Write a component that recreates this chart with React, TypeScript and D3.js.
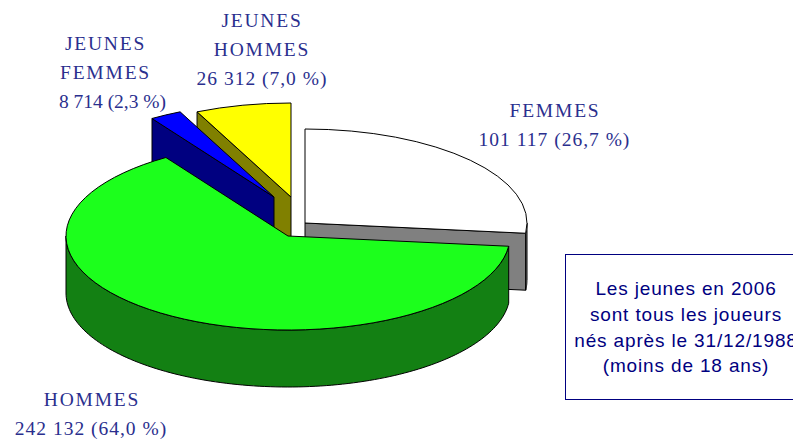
import React from "react";
import * as d3 from "d3";

const categories = ["FEMMES", "HOMMES", "JEUNES FEMMES", "JEUNES HOMMES"];
const values = [101117, 242132, 8714, 26312];
const topColors = ["#ffffff", "#1cff1c", "#0000ff", "#ffff00"];
const sideColors = ["#808080", "#138013", "#000080", "#808000"];
const centerX = [305, 288, 274, 291];
const centerY = [223, 236, 197, 197];
const drawOrder = [3, 2, 0, 1];
const labelLines = [
  ["FEMMES", "101 117 (26,7 %)"],
  ["HOMMES", "242 132 (64,0 %)"],
  ["JEUNES", "FEMMES", "8 714 (2,3 %)"],
  ["JEUNES", "HOMMES", "26 312 (7,0 %)"],
];
const labelLineX = [
  [555, 554.5],
  [92, 91],
  [105.5, 105.5, 112.5],
  [262, 262, 262],
];
const labelSpacing = [
  [1.8, 1],
  [1.8, 1],
  [1.8, 1.8, 0],
  [1.8, 1.8, 1],
];
const labelY = [117, 406, 50, 27];
const labelStep = 29;
const noteLines = ["Les jeunes en 2006", "sont tous les joueurs", "nés après le 31/12/1988", "(moins de 18 ans)"];
const noteBaselines = [295, 321, 347, 372];

const RX = 222;
const RY = 94;
const DEPTH = 57;

const arcs = d3.pie<number>().sort(null).startAngle(0).endAngle(2 * Math.PI)(values);
const unitArc = d3.arc<d3.PieArcDatum<number>>().innerRadius(0).outerRadius(1);
const lineGen = d3.line<[number, number]>();

function pt(i: number, a: number, dy = 0): [number, number] {
  return [centerX[i] + RX * Math.sin(a), centerY[i] - RY * Math.cos(a) + dy];
}

function rimPath(i: number, a0: number, a1: number): string | null {
  const lo = Math.max(a0, Math.PI / 2);
  const hi = Math.min(a1, (3 * Math.PI) / 2);
  if (hi <= lo) return null;
  const n = 120;
  const s = d3.range(n + 1).map((k) => lo + ((hi - lo) * k) / n);
  const top = s.map((a) => pt(i, a));
  const bottom = s.map((a) => pt(i, a, DEPTH)).reverse();
  return lineGen([...top, ...bottom]) + "Z";
}

function facePath(i: number, a: number): string {
  const tip: [number, number] = [centerX[i], centerY[i]];
  const tipDown: [number, number] = [centerX[i], centerY[i] + DEPTH];
  return lineGen([tip, pt(i, a), pt(i, a, DEPTH), tipDown]) + "Z";
}

export default function App() {
  return (
    <svg width={793} height={441} style={{ position: "fixed", left: 0, top: 0, background: "#fff" }}>
      {drawOrder.map((i) => {
        const d = arcs[i];
        const rim = rimPath(i, d.startAngle, d.endAngle);
        // only the start or end face that looks towards the viewer
        const faces = i === 0 ? [d.endAngle] : i === 1 ? [] : [d.startAngle];
        return (
          <g key={categories[i]} stroke="#000" strokeWidth={1} strokeLinejoin="round">
            {faces.map((a) => (
              <path key={a} d={facePath(i, a)} fill={sideColors[i]} />
            ))}
            {rim && <path d={rim} fill={sideColors[i]} />}
            <path
              d={unitArc(d) as string}
              transform={`translate(${centerX[i]},${centerY[i]}) scale(${RX},${RY})`}
              fill={topColors[i]}
              style={{ vectorEffect: "non-scaling-stroke" }}
            />
          </g>
        );
      })}
      {labelLines.map((lines, i) => (
        <text key={i} fontFamily="'Liberation Serif', serif" fontSize={19.5} fill="#2a2f8e" textAnchor="middle">
          {lines.map((l, k) => (
            <tspan key={k} x={labelLineX[i][k]} y={labelY[i] + k * labelStep} letterSpacing={labelSpacing[i][k]}>
              {l}
            </tspan>
          ))}
        </text>
      ))}
      <rect x={565.5} y={254.5} width={240} height={145} fill="#fff" stroke="#000080" strokeWidth={1} />
      <text fontFamily="'Liberation Sans', sans-serif" fontSize={19} letterSpacing={0.85} fill="#000080" textAnchor="middle">
        {noteLines.map((l, k) => (
          <tspan key={k} x={686} y={noteBaselines[k]}>
            {l}
          </tspan>
        ))}
      </text>
    </svg>
  );
}
